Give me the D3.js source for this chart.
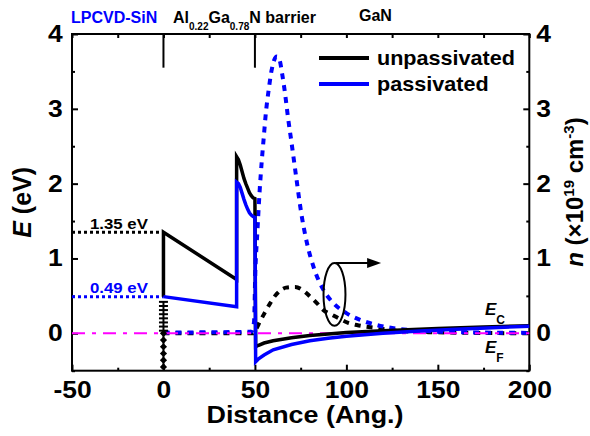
<!DOCTYPE html>
<html><head><meta charset="utf-8">
<script src="https://cdn.jsdelivr.net/npm/d3@7"></script>
<style>
body{margin:0;background:#fff}
svg{display:block}
text{font-family:"Liberation Sans",Arial,sans-serif;font-weight:bold}
</style>
</head><body>
<svg id="c" width="590" height="436"></svg>
<script>
// ---------------- data ----------------
const xTicks = [-50, 0, 50, 100, 150, 200];
const xMinorTicks = [-25, 25, 75, 125, 175];
const yTicks = [0, 1, 2, 3, 4];
const yMinorTicks = [-0.5, 0.5, 1.5, 2.5, 3.5];
const nTicks = [0, 1, 2, 3, 4];

// conduction band edge E (eV) vs distance (Angstrom)
const unpassivatedE = [[0,0.49],[0,1.35],[40,0.72],[40,2.36],[41,2.32],[42,2.25],[43,2.16],[44,2.07],[45,2.0],[46,1.94],[47,1.88],[48,1.84],[49,1.81],[50,1.80],
  [50.4,-0.18],[52,-0.16],[55,-0.13],[60,-0.1],[70,-0.06],[80,-0.03],[90,-0.01],[100,0.01],[120,0.035],[150,0.065],[175,0.085],[200,0.1]];
const passivatedE = [[0,0.49],[40,0.355],[40,2.02],[41,2.0],[42,1.95],[43,1.87],[44,1.79],[45,1.72],[46,1.66],[47,1.61],[48,1.58],[49,1.56],[50,1.55],
  [50.4,-0.38],[52,-0.34],[55,-0.29],[60,-0.22],[70,-0.15],[80,-0.1],[90,-0.065],[100,-0.04],[120,0.0],[140,0.03],[160,0.055],[180,0.075],[200,0.095]];

// electron density n (x1e19 cm^-3)
const unpassivatedN = [[0,0.0],[49,0.0],[50.5,0.05],[52.8,0.16],[55.5,0.28],[58.3,0.40],[61,0.5],[63.8,0.57],[67,0.61],[72,0.62],[76,0.58],[80.2,0.49],[84,0.4],[87.5,0.31],[92,0.25],[96.6,0.19],[101,0.14],[105.7,0.11],[116.6,0.07],[127.6,0.035],[145,0.015],[200,0.0]];
const passivatedN = [[0,0.01],[48,0.02],[49.5,0.15],[50.2,0.8],[51.4,1.38],[52.5,1.87],[53.8,2.32],[54.7,2.58],[56,2.95],[57.5,3.25],[59,3.5],[60.5,3.65],[62,3.7],[63.5,3.65],[65,3.45],[66.5,3.2],[68,2.9],[70,2.55],[72.5,2.1],[75.5,1.58],[78.5,1.2],[82,0.89],[87,0.6],[93,0.4],[100,0.27],[107.5,0.18],[115,0.12],[125,0.07],[140,0.035],[160,0.015],[200,0.005]];

const fermiLevel = [[-50,0],[200,0]];
const barrierHeights = [1.35, 0.49];
const barrierLabels = ["1.35 eV", "0.49 eV"];
const interfaceBars = [0.42,0.365,0.31,0.255,0.2,0.145,0.09,0.035];
const interfaceDiamonds = [0,-0.09,-0.18,-0.27,-0.36,-0.45];
const layerBounds = [0, 50];
const legendLabels = ["unpassivated", "passivated"];

// ---------------- layout ----------------
const svg = d3.select("#c");
const L = 72, R = 529.3, T = 34, B = 370.7;
const x = d3.scaleLinear().domain([-50, 200]).range([L, R]);
const y = d3.scaleLinear().domain([-0.5, 4]).range([B, T]);
const yn = d3.scaleLinear().domain([-0.5, 4]).range([B, T]);
const BLUE = "#0000ff", BLACK = "#000", MAG = "#ff00ff";

const lineE = d3.line().x(d => x(d[0])).y(d => y(d[1]));
const lineN = d3.line().x(d => x(d[0])).y(d => yn(d[1])).curve(d3.curveMonotoneX);
const fmt = d => String(d);

function stretch(sel, f) { sel.attr("transform", `scale(${f},1)`); }
function styleAxis(g) { g.select(".domain").remove(); g.selectAll("line").attr("stroke", BLACK).attr("stroke-width", 2); }
function styleLabels(g) {
  g.selectAll("text").attr("font-size", 23).attr("fill", BLACK)
    .style("font-family", '"Liberation Sans",Arial,sans-serif').style("font-weight", "bold").call(stretch, 1.15);
}

// axes
svg.append("g").attr("transform", `translate(0,${B})`)
  .call(d3.axisBottom(x).tickValues(xTicks).tickSize(-6).tickPadding(11).tickFormat(fmt))
  .call(styleAxis).call(styleLabels);
svg.append("g").attr("transform", `translate(0,${B})`).call(d3.axisBottom(x).tickValues(xMinorTicks).tickSize(-3).tickFormat("")).call(styleAxis);
svg.append("g").attr("transform", `translate(0,${T})`).call(d3.axisTop(x).tickValues(xTicks.concat(xMinorTicks)).tickSize(-4).tickFormat("")).call(styleAxis);

svg.append("g").attr("transform", `translate(${L},0)`)
  .call(d3.axisLeft(y).tickValues(yTicks).tickSize(-6).tickPadding(8).tickFormat(fmt))
  .call(styleAxis).call(styleLabels);
svg.append("g").attr("transform", `translate(${L},0)`).call(d3.axisLeft(y).tickValues(yMinorTicks).tickSize(-3).tickFormat("")).call(styleAxis);

svg.append("g").attr("transform", `translate(${R},0)`)
  .call(d3.axisRight(yn).tickValues(nTicks).tickSize(-6).tickPadding(6).tickFormat(fmt))
  .call(styleAxis).call(styleLabels);
svg.append("g").attr("transform", `translate(${R},0)`).call(d3.axisRight(yn).tickValues(yMinorTicks).tickSize(-3).tickFormat("")).call(styleAxis);

// frame
svg.append("rect").attr("x", L).attr("y", T).attr("width", R - L).attr("height", B - T)
  .attr("fill", "none").attr("stroke", BLACK).attr("stroke-width", 2);

// layer boundaries
svg.selectAll(".lb").data(layerBounds).enter().append("line")
  .attr("x1", d => x(d)).attr("x2", d => x(d)).attr("y1", y(4)).attr("y2", y(3.55))
  .attr("stroke", BLACK).attr("stroke-width", 2);

// barrier height guides
const guideColors = [BLACK, BLUE];
barrierHeights.forEach((v, i) => {
  svg.append("line").attr("x1", x(-50)).attr("x2", x(0)).attr("y1", y(v)).attr("y2", y(v))
    .attr("stroke", guideColors[i]).attr("stroke-width", 3).attr("stroke-dasharray", "3,3");
  svg.append("g").attr("transform", `translate(90,${y(v) - 3.5})`)
    .append("text").attr("font-size", 14).attr("fill", guideColors[i]).text(barrierLabels[i]).call(stretch, 1.2);
});

// density curves (dotted)
svg.append("path").datum(unpassivatedN).attr("d", lineN).attr("fill", "none")
  .attr("stroke", BLACK).attr("stroke-width", 4).attr("stroke-dasharray", "6,6");
svg.append("path").datum(passivatedN).attr("d", lineN).attr("fill", "none")
  .attr("stroke", BLUE).attr("stroke-width", 4).attr("stroke-dasharray", "6,6");

// Fermi level
svg.append("path").datum(fermiLevel).attr("d", lineE).attr("fill", "none")
  .attr("stroke", MAG).attr("stroke-width", 2).attr("stroke-dasharray", "13,7,4,7");

// band edges
svg.append("path").datum(unpassivatedE).attr("d", lineE).attr("fill", "none")
  .attr("stroke", BLACK).attr("stroke-width", 3.5).attr("stroke-linejoin", "miter");
svg.append("path").datum(passivatedE).attr("d", lineE).attr("fill", "none")
  .attr("stroke", BLUE).attr("stroke-width", 3.5).attr("stroke-linejoin", "miter");

// interface markers at x = 0
svg.append("line").attr("x1", x(0)).attr("x2", x(0)).attr("y1", y(interfaceBars[0])).attr("y2", y(interfaceDiamonds[interfaceDiamonds.length - 1]))
  .attr("stroke", BLACK).attr("stroke-width", 2);
svg.selectAll(".bar").data(interfaceBars).enter().append("line")
  .attr("x1", x(0) - 4.5).attr("x2", x(0) + 4.5).attr("y1", d => y(d)).attr("y2", d => y(d))
  .attr("stroke", BLACK).attr("stroke-width", 2);
svg.selectAll(".dia").data(interfaceDiamonds).enter().append("path")
  .attr("d", d3.symbol(d3.symbolSquare, 26)())
  .attr("transform", d => `translate(${x(0)},${y(d)}) rotate(45)`).attr("fill", BLACK);

// ellipse + arrow pointing to right axis
const ell = {cx: 93.5, cy: 0.52, rx: 6, ry: 0.42, ax0: 94, ax1: 119, ay: 0.94};
svg.append("ellipse").attr("cx", x(ell.cx)).attr("cy", y(ell.cy))
  .attr("rx", x(ell.cx + ell.rx) - x(ell.cx)).attr("ry", y(ell.cy - ell.ry) - y(ell.cy))
  .attr("fill", "none").attr("stroke", BLACK).attr("stroke-width", 2);
svg.append("line").attr("x1", x(ell.ax0)).attr("x2", x(ell.ax1) - 10).attr("y1", y(ell.ay)).attr("y2", y(ell.ay))
  .attr("stroke", BLACK).attr("stroke-width", 2);
svg.append("path").attr("d", `M${x(ell.ax1)},${y(ell.ay)} L${x(ell.ax1) - 14},${y(ell.ay) - 5} L${x(ell.ax1) - 14},${y(ell.ay) + 5} Z`).attr("fill", BLACK);

// E_C / E_F labels
function subLabel(px, py, main, sub) {
  const t = svg.append("text").attr("x", px).attr("y", py).attr("font-size", 17);
  t.append("tspan").attr("font-style", "italic").text(main);
  t.append("tspan").attr("font-size", 12).attr("dy", 9).text(sub);
}
subLabel(485, 315, "E", "C");
subLabel(485, 353, "E", "F");

// legend
const legendColors = [BLACK, BLUE];
legendLabels.forEach((lab, i) => {
  const yy = 58 + i * 26;
  svg.append("line").attr("x1", 319).attr("x2", 369).attr("y1", yy).attr("y2", yy)
    .attr("stroke", legendColors[i]).attr("stroke-width", 4);
  svg.append("g").attr("transform", `translate(377,${yy + 7})`)
    .append("text").attr("font-size", 20).text(lab).call(stretch, 1.08);
});

// layer labels on top
svg.append("text").attr("x", 71).attr("y", 23).attr("font-size", 16).attr("fill", BLUE).text("LPCVD-SiN");
const al = svg.append("text").attr("x", 173).attr("y", 23).attr("font-size", 16);
al.append("tspan").text("Al");
al.append("tspan").attr("font-size", 10).attr("dy", 7).text("0.22");
al.append("tspan").attr("dy", -7).text("Ga");
al.append("tspan").attr("font-size", 10).attr("dy", 7).text("0.78");
al.append("tspan").attr("dy", -7).text("N barrier");
svg.append("text").attr("x", 359).attr("y", 21).attr("font-size", 16).text("GaN");

// axis titles
svg.append("g").attr("transform", `translate(305,423)`)
  .append("text").attr("text-anchor", "middle").attr("font-size", 24).text("Distance (Ang.)").call(stretch, 1.12);

const yt = svg.append("text").attr("transform", `translate(31,${(T + B) / 2}) rotate(-90)`)
  .attr("text-anchor", "middle").attr("font-size", 25);
yt.append("tspan").attr("font-style", "italic").text("E");
yt.append("tspan").text(" (eV)");

const nt = svg.append("text").attr("transform", `translate(583,192) rotate(-90)`)
  .attr("text-anchor", "middle").attr("font-size", 24);
nt.append("tspan").attr("font-style", "italic").text("n");
nt.append("tspan").text(" (×10");
nt.append("tspan").attr("font-size", 15).attr("dy", -9).text("19");
nt.append("tspan").attr("dy", 9).text(" cm");
nt.append("tspan").attr("font-size", 15).attr("dy", -9).text("-3");
nt.append("tspan").attr("dy", 9).text(")");
</script>
</body></html>
